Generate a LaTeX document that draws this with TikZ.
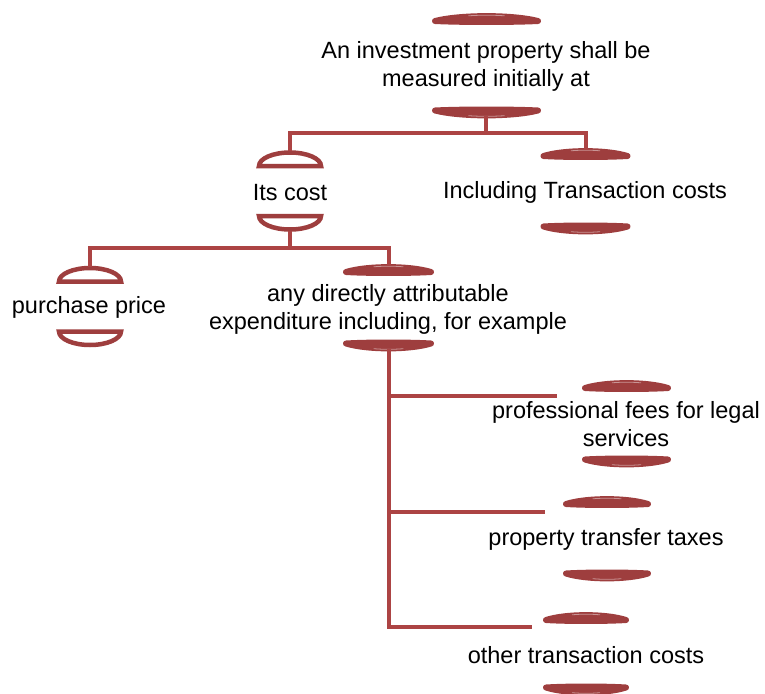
\documentclass[tikz,border=0pt]{standalone}
\usepackage{fontspec}
\setmainfont{Liberation Sans}
\usetikzlibrary{positioning}
\definecolor{capred}{RGB}{158,62,62}
\definecolor{linered}{RGB}{172,68,68}

\begin{document}
\begin{tikzpicture}[x=1pt,y=-1pt,
      txt/.style={inner sep=0pt,align=center,font=\fontsize{23.5}{28}\selectfont},
      edge/.style={draw=linered,line width=4pt},
      pics/lensup/.style={code={
        \filldraw[capred,line width=6pt,line join=round] (-#1,0) .. controls (-#1*0.5,-6.5) and (#1*0.5,-6.5) .. (#1,0) .. controls (#1*0.5,1.3) and (-#1*0.5,1.3) .. cycle;
        \draw[white,opacity=.45,line width=.8pt] (-#1*0.35,-5.2) .. controls (-#1*0.12,-6) and (#1*0.12,-6) .. (#1*0.35,-5.2);}},
      pics/lensdown/.style={code={
        \filldraw[capred,line width=6pt,line join=round] (-#1,0) .. controls (-#1*0.5,6.5) and (#1*0.5,6.5) .. (#1,0) .. controls (#1*0.5,-1.3) and (-#1*0.5,-1.3) .. cycle;
        \draw[white,opacity=.45,line width=.8pt] (-#1*0.35,5.2) .. controls (-#1*0.12,6) and (#1*0.12,6) .. (#1*0.35,5.2);}},
      pics/domeup/.style={code={
        \filldraw[draw=capred,fill=white,line width=4.5pt] (-#1,0) arc[start angle=180,end angle=0,x radius=#1pt,y radius=13.5pt] -- cycle;}},
      pics/domedown/.style={code={
        \filldraw[draw=capred,fill=white,line width=4.5pt] (-#1,0) arc[start angle=180,end angle=360,x radius=#1pt,y radius=13.5pt] -- cycle;}},
    ]
    \useasboundingbox (0,0) rectangle (765,693);

    \node[txt] (root) at (486,66) {An investment property shall be\\measured initially at};
    \node[txt] (its) at (290,192.5) {Its cost};
    \node[txt] (incl) at (585,192.5) {Including Transaction costs};
    \node[txt] (purch) at (89,307.5) {purchase price};
    \node[txt] (any) at (388,309) {any directly attributable\\expenditure including, for example};
    \node[txt] (prof) at (626,424) {professional fees for legal\\services};
    \node[txt] (tax) at (606,539.5) {property transfer taxes};
    \node[txt] (other) at (586,655.5) {other transaction costs};

    \pic at (486.5,21) {lensup=51.5};
    \pic at (486.5,110.5) {lensdown=51.5};
    \pic at (290,166) {domeup=31};
    \pic at (290,216) {domedown=31};
    \pic at (585.5,156) {lensup=42};
    \pic at (585.5,226.5) {lensdown=42};
    \pic at (90,281.5) {domeup=31};
    \pic at (90,331.5) {domedown=31};
    \pic at (388.5,272) {lensup=42.5};
    \pic at (388.5,343.5) {lensdown=42.5};
    \pic at (626.5,388) {lensup=41.5};
    \pic at (626.5,459.5) {lensdown=41.5};
    \pic at (607,504) {lensup=41};
    \pic at (607,573.5) {lensdown=41};
    \pic at (586,620) {lensup=40};
    \pic at (586,687.5) {lensdown=40};

    \coordinate (rootB) at (486,116);
    \coordinate (itsT) at (290,151);
    \coordinate (inclT) at (586,150);
    \coordinate (itsB) at (290,231);
    \coordinate (purchT) at (90,267);
    \coordinate (anyT) at (389,266);
    \coordinate (anyB) at (389,349);
    \coordinate (profL) at (557,396);
    \coordinate (taxL) at (545,512);
    \coordinate (otherL) at (532,627);

    \draw[edge] (rootB) -- ++(0,17) -| (itsT);
    \draw[edge] (rootB) -- ++(0,17) -| (inclT);
    \draw[edge] (itsB) -- ++(0,17) -| (purchT);
    \draw[edge] (itsB) -- ++(0,17) -| (anyT);
    \draw[edge] (anyB) |- (profL);
    \draw[edge] (anyB) |- (taxL);
    \draw[edge] (anyB) |- (otherL);
\end{tikzpicture}
\end{document}
